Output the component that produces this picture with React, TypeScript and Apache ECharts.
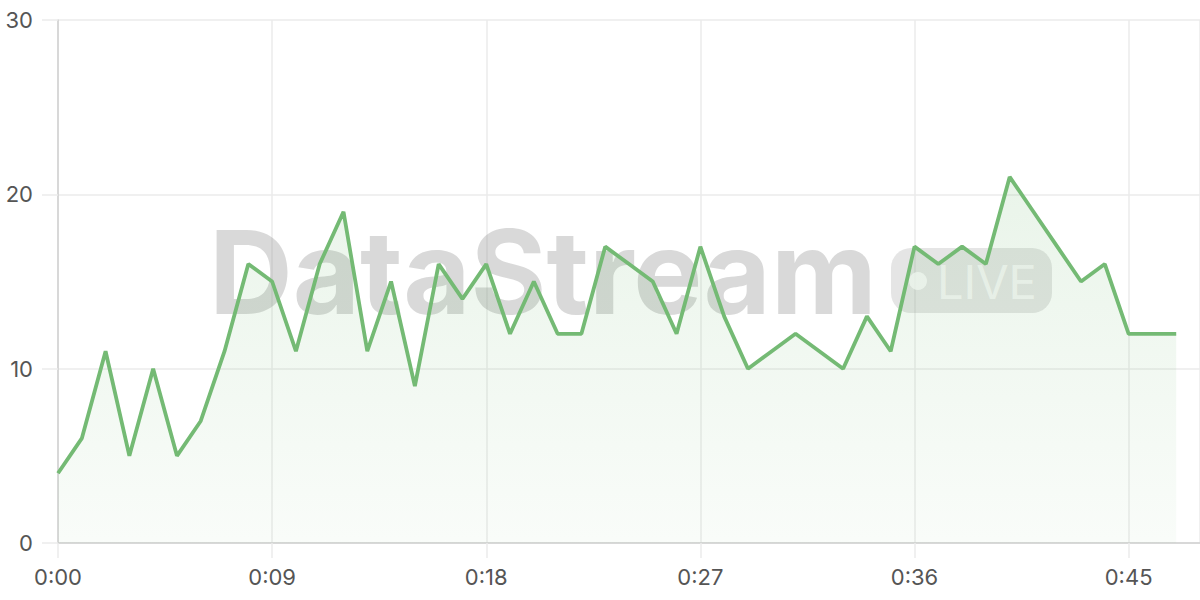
import { useEffect, useRef } from 'react';
import * as echarts from 'echarts';

// seconds since start
const seconds = [
  0, 1, 2, 3, 4, 5, 6, 7, 8, 9, 10, 11, 12, 13, 14, 15, 16, 17, 18, 19, 20, 21, 22, 23,
  24, 25, 26, 27, 28, 29, 30, 31, 32, 33, 34, 35, 36, 37, 38, 39, 40, 41, 42, 43, 44, 45, 46, 47,
];
const values = [
  4, 6, 11, 5, 10, 5, 7, 11, 16, 15, 11, 16, 19, 11, 15, 9, 16, 14, 16, 12, 15, 12, 12, 17,
  16, 15, 12, 17, 13, 10, 11, 12, 11, 10, 13, 11, 17, 16, 17, 16, 21, 19, 17, 15, 16, 12, 12, 12,
];
const xTicks = [0, 9, 18, 27, 36, 45];
const yTicks = [0, 10, 20, 30];

const FONT = 'Inter, "Noto Sans", sans-serif';

function fmtTime(v: number) {
  const m = Math.floor(v / 60);
  const s = v % 60;
  return `${m}:${s < 10 ? '0' + s : s}`;
}

export default function App() {
  const chartRef = useRef<HTMLDivElement>(null);

  useEffect(() => {
    if (!chartRef.current) return;
    const chart = echarts.init(chartRef.current, null, { renderer: 'svg' });

    const option: echarts.EChartsOption = {
      animation: false,
      grid: { left: 58, right: 0, top: 20, bottom: 57 },
      xAxis: {
        type: 'value',
        min: 0,
        max: 48,
        interval: 9,
        axisLine: { show: true, lineStyle: { color: '#d0d0d0', width: 1.5 } },
        axisTick: { show: true, length: 15, lineStyle: { color: '#ebebeb', width: 1.5 } },
        axisLabel: {
          color: '#555',
          fontSize: 22,
          fontFamily: FONT,
          margin: 23,
          showMaxLabel: false,
          formatter: (v: number) => (xTicks.includes(v) ? fmtTime(v) : ''),
        },
        splitLine: { show: true, lineStyle: { color: '#ebebeb', width: 1.5 } },
      },
      yAxis: {
        type: 'value',
        min: yTicks[0],
        max: yTicks[yTicks.length - 1],
        interval: 10,
        axisLine: { show: true, lineStyle: { color: '#d0d0d0', width: 1.5 } },
        axisTick: { show: true, length: 16, lineStyle: { color: '#ebebeb', width: 1.5 } },
        axisLabel: { color: '#555', fontSize: 22, fontFamily: FONT, margin: 25 },
        splitLine: { show: true, lineStyle: { color: '#ebebeb', width: 1.5 } },
      },
      graphic: [
        {
          type: 'text',
          z: 1,
          silent: true,
          style: {
            text: 'DataStream',
            x: 209,
            y: 272,
            fill: 'rgba(150,150,150,0.36)',
            fontSize: 116,
            fontWeight: 'bold',
            fontFamily: FONT,
            textAlign: 'left',
            textVerticalAlign: 'middle',
          } as any,
        },
        {
          type: 'rect',
          z: 1,
          silent: true,
          shape: { x: 891, y: 248, width: 161, height: 65, r: 20 },
          style: { fill: 'rgba(150,150,150,0.25)' },
        },
        {
          type: 'circle',
          z: 1,
          silent: true,
          shape: { cx: 918, cy: 281, r: 9 },
          style: { fill: 'rgba(255,255,255,0.75)' },
        },
        {
          type: 'text',
          z: 1,
          silent: true,
          style: {
            text: 'LIVE',
            x: 937,
            y: 281,
            fill: 'rgba(255,255,255,0.7)',
            fontSize: 47,
            fontFamily: FONT,
            textAlign: 'left',
            textVerticalAlign: 'middle',
          } as any,
        },
      ],
      series: [
        {
          type: 'line',
          z: 2,
          data: seconds.map((s, i) => [s, values[i]]),
          showSymbol: false,
          lineStyle: { color: '#74ba74', width: 3.8 },
          itemStyle: { color: '#74ba74' },
          areaStyle: {
            color: new echarts.graphic.LinearGradient(0, 0, 0, 1, [
              { offset: 0, color: 'rgba(116,186,116,0.22)' },
              { offset: 1, color: 'rgba(116,186,116,0.06)' },
            ]),
          },
        },
      ],
    };

    chart.setOption(option);
    return () => {
      chart.dispose();
    };
  }, []);

  return (
    <div
      ref={chartRef}
      style={{ position: 'fixed', left: 0, top: 0, width: 1200, height: 600, background: '#fff' }}
    />
  );
}
